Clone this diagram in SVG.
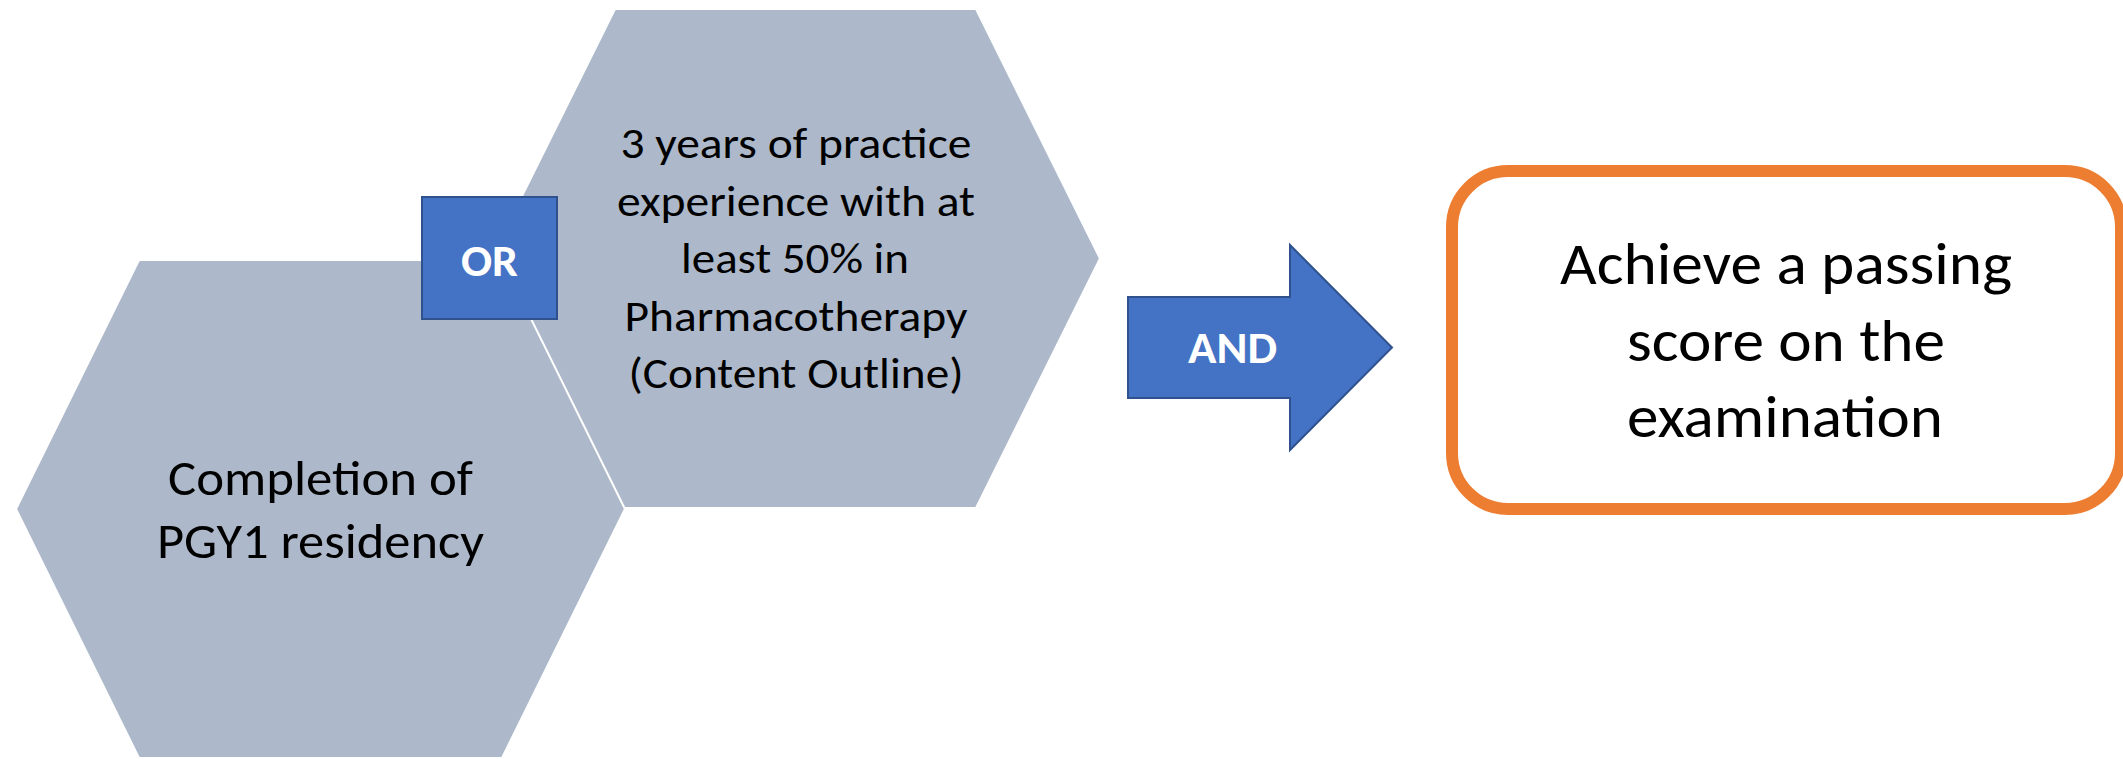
<svg xmlns="http://www.w3.org/2000/svg" width="2123" height="759" viewBox="0 0 2123 759">
  <style>
    .hex { fill: #ADB9CA; stroke: #FFFFFF; stroke-width: 2; }
    .blue { fill: #4472C4; stroke: #2F528F; stroke-width: 2; }
    .goal { fill: #FFFFFF; stroke: #ED7D31; stroke-width: 12; }
    .t { font-family: Carlito, Lato, "Open Sans", sans-serif; fill: #000000; text-anchor: middle; }
    .w { font-family: Carlito, Lato, "Open Sans", sans-serif; fill: #FFFFFF; font-weight: bold; text-anchor: middle; }
  </style>
  <rect x="0" y="0" width="2123" height="759" fill="#FFFFFF"/>

  <g id="node-practice">
    <polygon class="hex" points="491,258.5 615,9 976,9 1100,258.5 976,508 615,508"/>
    <text class="t" font-size="44" x="796" y="158" textLength="351" lengthAdjust="spacingAndGlyphs">3 years of practice</text>
    <text class="t" font-size="44" x="796" y="216" textLength="358" lengthAdjust="spacingAndGlyphs">experience with at</text>
    <text class="t" font-size="44" x="795" y="273" textLength="228" lengthAdjust="spacingAndGlyphs">least 50% in</text>
    <text class="t" font-size="44" x="796" y="331" textLength="343" lengthAdjust="spacingAndGlyphs">Pharmacotherapy</text>
    <text class="t" font-size="44" x="796" y="388" textLength="335" lengthAdjust="spacingAndGlyphs">(Content Outline)</text>
  </g>

  <g id="node-residency">
    <polygon class="hex" points="16,509 139,260 502,260 625,509 502,758 139,758"/>
    <text class="t" font-size="49" x="320.5" y="495" textLength="305" lengthAdjust="spacingAndGlyphs">Completion of</text>
    <text class="t" font-size="49" x="320.5" y="558" textLength="327" lengthAdjust="spacingAndGlyphs">PGY1 residency</text>
  </g>

  <g id="node-or">
    <rect class="blue" x="422" y="197" width="135" height="122"/>
    <text class="w" font-size="44" x="489.5" y="276" textLength="57" lengthAdjust="spacingAndGlyphs">OR</text>
  </g>

  <g id="connectors">
    <g id="connector-and">
      <polygon class="blue" points="1128,297 1290,297 1290,245 1392,347.5 1290,450 1290,398 1128,398"/>
      <text class="w" font-size="44" x="1232.5" y="363" textLength="89" lengthAdjust="spacingAndGlyphs">AND</text>
    </g>
  </g>

  <g id="node-exam">
    <rect class="goal" x="1452" y="171" width="669" height="338" rx="56" ry="56"/>
    <text class="t" font-size="59" x="1786" y="284" textLength="452" lengthAdjust="spacingAndGlyphs">Achieve a passing</text>
    <text class="t" font-size="59" x="1786" y="361" textLength="318" lengthAdjust="spacingAndGlyphs">score on the</text>
    <text class="t" font-size="59" x="1785" y="437" textLength="316" lengthAdjust="spacingAndGlyphs">examination</text>
  </g>
</svg>
